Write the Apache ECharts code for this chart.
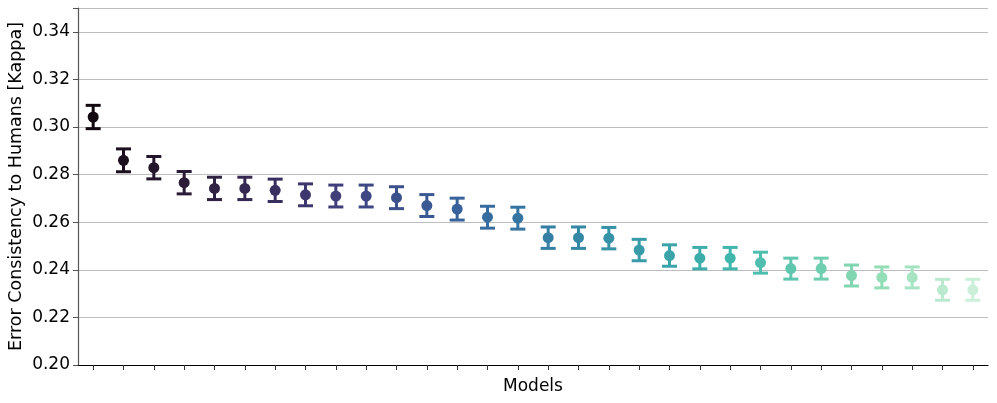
<!DOCTYPE html>
<html>
<head>
<meta charset="utf-8">
<script src="https://cdn.jsdelivr.net/npm/echarts@6/dist/echarts.min.js"></script>
<style>html,body{margin:0;padding:0;background:#fff;}#chart{width:997px;height:403px;}</style>
</head>
<body>
<div id="chart"></div>
<script>
const categories = ['M1','M2','M3','M4','M5','M6','M7','M8','M9','M10','M11','M12','M13','M14','M15','M16','M17','M18','M19','M20','M21','M22','M23','M24','M25','M26','M27','M28','M29','M30'];
const kappaMean = [0.3042,0.2860,0.2829,0.2766,0.2742,0.2742,0.2734,0.2715,0.2710,0.2710,0.2703,0.2670,0.2655,0.2621,0.2617,0.2535,0.2535,0.2533,0.2483,0.2460,0.2449,0.2449,0.2430,0.2405,0.2405,0.2376,0.2368,0.2368,0.2316,0.2316];
const kappaErr = [0.0049,0.0048,0.0047,0.0047,0.0047,0.0047,0.0047,0.0046,0.0046,0.0046,0.0046,0.0046,0.0046,0.0046,0.0046,0.0045,0.0045,0.0045,0.0045,0.0045,0.0045,0.0045,0.0044,0.0044,0.0044,0.0044,0.0044,0.0044,0.0044,0.0044];
const yTicks = [0.20,0.22,0.24,0.26,0.28,0.30,0.32,0.34];

// mako colormap stops
const makoStops = [[0,'#0B0405'],[1/7,'#2E1E3B'],[2/7,'#413D7B'],[3/7,'#37659E'],[4/7,'#348FA7'],[5/7,'#40B7AD'],[6/7,'#8BDAB2'],[1,'#DEF5E5']];
function hex2rgb(h){return [parseInt(h.substr(1,2),16),parseInt(h.substr(3,2),16),parseInt(h.substr(5,2),16)];}
function mako(t){
  for(let i=0;i<makoStops.length-1;i++){
    const a=makoStops[i],b=makoStops[i+1];
    if(t>=a[0]&&t<=b[0]){
      const f=(t-a[0])/(b[0]-a[0]);const ca=hex2rgb(a[1]),cb=hex2rgb(b[1]);
      return 'rgb('+ca.map((v,k)=>Math.round(v+(cb[k]-v)*f)).join(',')+')';
    }
  }
  return makoStops[makoStops.length-1][1];
}
const n = categories.length;
const colors = categories.map((c,i)=>mako((i+1)/(n+1)));

const chart = echarts.init(document.getElementById('chart'));
const font = 'DejaVu Sans';
chart.setOption({
  animation:false,
  grid:{left:78,right:9,top:8,bottom:38,containLabel:false,outerBoundsMode:'none'},
  xAxis:{
    type:'category',data:categories,boundaryGap:true,
    name:'Models',nameLocation:'middle',nameGap:13,
    nameTextStyle:{fontFamily:font,fontSize:17,color:'#000'},
    axisLine:{lineStyle:{color:'#000',width:1.2}},
    axisTick:{show:true,interval:0,alignWithLabel:true,length:5,lineStyle:{color:'#333'}},
    axisLabel:{show:true,interval:0,formatter:()=>'',fontSize:1},
    splitLine:{show:false}
  },
  yAxis:{
    type:'value',min:0.20,max:0.35,interval:0.02,
    name:'Error Consistency to Humans [Kappa]',nameLocation:'middle',nameGap:53,
    nameMoveOverlap:false,
    nameTextStyle:{fontFamily:font,fontSize:17.5,color:'#000'},
    axisLine:{show:true,lineStyle:{color:'#555',width:1.2}},
    axisTick:{show:true,length:5,lineStyle:{color:'#555'}},
    axisLabel:{fontFamily:font,fontSize:17,color:'#000',margin:8,
      formatter:v=>{const t=yTicks.find(x=>Math.abs(x-v)<1e-9);return t!==undefined?t.toFixed(2):'';}},
    splitLine:{show:true,lineStyle:{color:'#bdbdbd',width:1}}
  },
  series:[
    {
      type:'custom',
      z:2,
      data:categories.map((c,i)=>[i,kappaMean[i]-kappaErr[i],kappaMean[i]+kappaErr[i]]),
      renderItem:function(params,api){
        const i=api.value(0);
        const lo=api.coord([i,api.value(1)]);
        const hi=api.coord([i,api.value(2)]);
        const hw=7.5;
        const st={stroke:colors[i],lineWidth:3,fill:null};
        return {type:'group',children:[
          {type:'line',shape:{x1:lo[0],y1:lo[1],x2:hi[0],y2:hi[1]},style:st},
          {type:'line',shape:{x1:lo[0]-hw,y1:lo[1],x2:lo[0]+hw,y2:lo[1]},style:st},
          {type:'line',shape:{x1:hi[0]-hw,y1:hi[1],x2:hi[0]+hw,y2:hi[1]},style:st}
        ]};
      },
      encode:{x:0,y:[1,2]}
    },
    {
      type:'scatter',
      z:3,
      symbol:'circle',symbolSize:11,
      itemStyle:{opacity:1},
      data:kappaMean.map((v,i)=>({value:[i,v],itemStyle:{color:colors[i],opacity:1}}))
    }
  ]
});
</script>
</body>
</html>
